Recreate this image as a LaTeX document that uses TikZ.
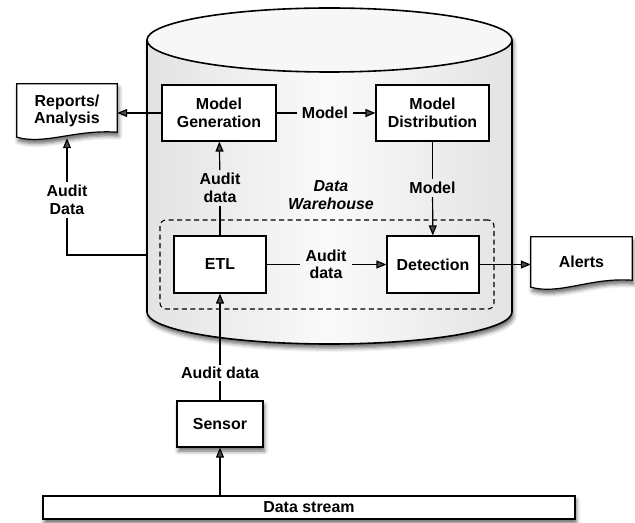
\documentclass[tikz,border=0pt]{standalone}
\usepackage{fontspec}
\setmainfont{Liberation Sans}
\usetikzlibrary{arrows.meta,shadows.blur,calc,backgrounds}

\newcommand\labsize{\fontsize{16}{17.5}\selectfont}

\tikzset{
  lbl/.style={font=\bfseries\labsize, align=center, inner xsep=5bp, inner ysep=3bp},
  procbox/.style={lbl, draw, line width=1.2bp, fill=white},
  softshadow/.style={blur shadow={shadow xshift=1.5bp, shadow yshift=-4bp,
      shadow blur radius=4bp, shadow opacity=60}},
  link/.style={line width=1.2bp},
  flow/.style={link, -{Triangle[length=10bp,width=8bp]}},
  docbox/.style={draw, line width=1.2bp, fill=white, softshadow},
}

\begin{document}
\begin{tikzpicture}[x=1bp,y=-1bp]
\useasboundingbox (0,0) rectangle (635,523);

% warehouse cylinder: body, outline and lid
\path[softshadow, left color=black!11, right color=black!11, middle color=black!2]
  (147,40) -- (147,312)
  arc[start angle=180, end angle=360, x radius=182.5bp, y radius=32bp]
  -- (512,40)
  arc[start angle=0, end angle=180, x radius=182.5bp, y radius=32bp] -- cycle;
\draw[line width=1.6bp]
  (147,40) -- (147,312)
  arc[start angle=180, end angle=360, x radius=182.5bp, y radius=32bp]
  -- (512,40);
\draw[line width=1.6bp, fill=black!3] (329.5,40) ellipse [x radius=182.5bp, y radius=32bp];

% dashed processing zone
\node[draw, line width=1.1bp, dash pattern=on 5bp off 3.5bp, rounded corners=6bp,
      minimum width=334bp, minimum height=89bp] (zone) at (327,264.5) {};

% process boxes
\node[procbox, minimum width=114bp, minimum height=56bp] (mg) at (219,113) {Model\\Generation};
\node[procbox, minimum width=113bp, minimum height=56bp] (md) at (432.5,113) {Model\\Distribution};
\node[procbox, minimum width=92bp, minimum height=57bp] (etl) at (220,264.5) {ETL};
\node[procbox, minimum width=92bp, minimum height=57bp] (det) at (433,264.5) {Detection};
\node[procbox, softshadow, minimum width=86bp, minimum height=46bp] (sen) at (220,424) {Sensor};
\node[procbox, softshadow, minimum width=532bp, minimum height=23bp, inner sep=0pt] (ds) at (309,507.5) {Data stream};

% document outputs
\node[lbl, minimum width=100bp, minimum height=54bp] (rep) at (67,111) {Reports/\\Analysis};
\node[lbl, minimum width=101bp, minimum height=50bp] (al) at (581.5,262) {Alerts};
\begin{pgfonlayer}{background}
  \draw[docbox] (rep.north west) -- (rep.north east) -- ($(rep.south east)+(0,-6)$)
    .. controls ($(rep.south east)+(-42,-9)$) and ($(rep.south west)+(28,7)$)
    .. ($(rep.south west)+(0,-1)$) -- cycle;
  \draw[docbox] (al.north west) -- (al.north east) -- ($(al.south east)+(0,-7)$)
    .. controls ($(al.south east)+(-42,-10)$) and ($(al.south west)+(29,8)$)
    .. (al.south west) -- cycle;
\end{pgfonlayer}

% labels
\node[lbl] (lm1) at (325,113) {Model};
\node[lbl] (lm2) at (432.5,188) {Model};
\node[lbl] (la1) at (220,188) {Audit\\data};
\node[lbl] (la2) at (326,264.5) {Audit\\data};
\node[lbl] (la3) at (67,200) {Audit\\Data};
\node[lbl, inner ysep=1.5bp] (la4) at (220,373) {Audit data};
\node[lbl, font=\bfseries\itshape\labsize] (dw) at (331,195) {Data\\Warehouse};

% connectors
\draw[link] (mg) -- (lm1);
\draw[flow] (lm1) -- (md);
\draw[link] (md) -- (lm2);
\draw[flow] (lm2) -- (det);
\draw[link] (etl) -- (la1);
\draw[flow] (la1) -- (mg);
\draw[link] (etl) -- (la2);
\draw[flow] (la2) -- (det);
\draw[flow] (det.east) -- (det.east -| al.west);
\draw[flow] (mg.west) -- (mg.west -| rep.east);
\coordinate (wall) at (147,255);
\draw[link] (wall) -| (la3);
\draw[flow] (la3) -- (rep);
\draw[link] (sen) -- (la4);
\draw[flow] (la4) -- (etl);
\draw[flow] (sen |- ds.north) -- (sen);
\end{tikzpicture}
\end{document}
